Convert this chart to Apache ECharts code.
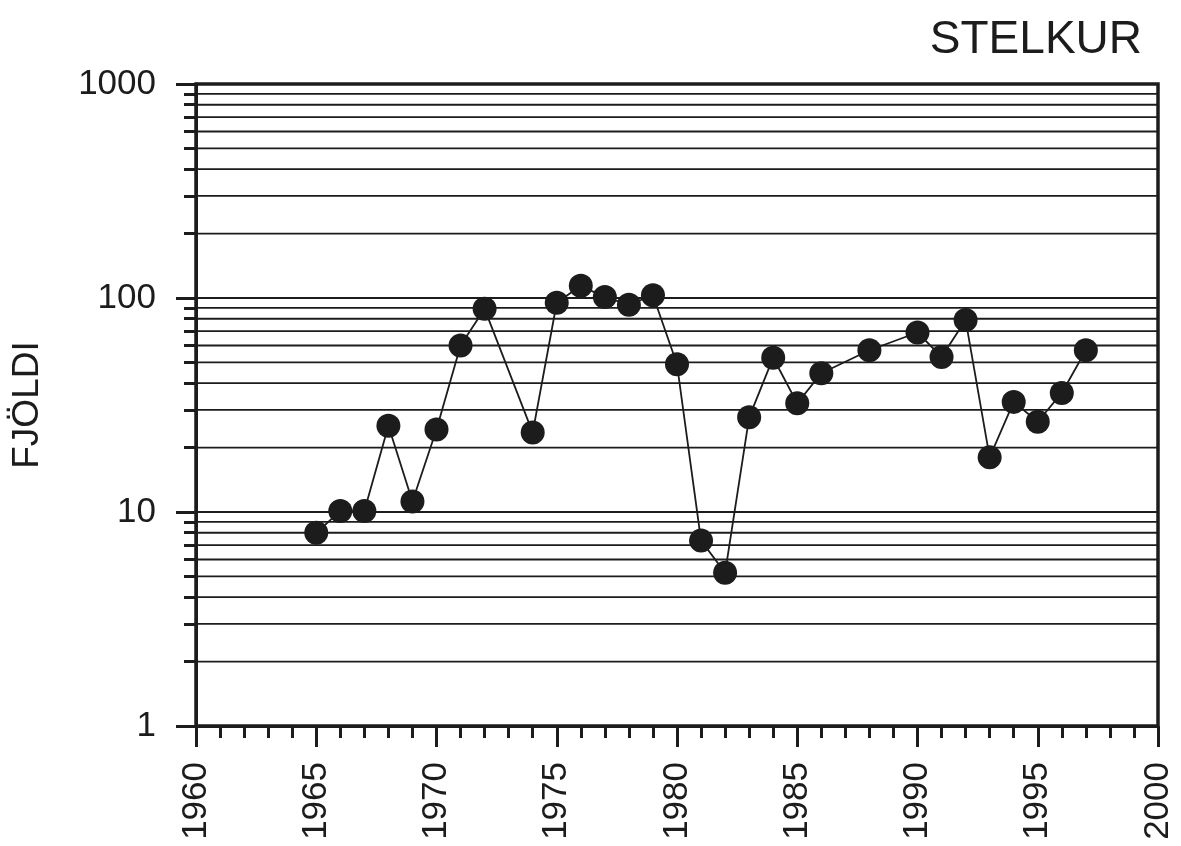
<!DOCTYPE html>
<html>
<head>
<meta charset="utf-8">
<script src="https://cdn.jsdelivr.net/npm/echarts@6/dist/echarts.min.js"></script>
<style>
  html, body { margin: 0; padding: 0; background: #fff; }
  #chart { width: 1181px; height: 846px; }
</style>
</head>
<body>
<div id="chart"></div>
<script>
// counts per year (years with no count are left out)
var years = [1965, 1966, 1967, 1968, 1969, 1970, 1971, 1972, 1974, 1975, 1976, 1977, 1978, 1979, 1980,
  1981, 1982, 1983, 1984, 1985, 1986, 1988, 1990, 1991, 1992, 1993, 1994, 1995, 1996, 1997];
var counts = [8, 10.1, 10.1, 25.3, 11.2, 24.3, 60, 89, 23.5, 95, 114, 101, 93, 103, 49,
  7.35, 5.2, 27.7, 52.6, 32.2, 44.5, 57, 69, 53, 79, 18, 32.7, 26.4, 36, 57];
// minor log grid lines 2..9 in each decade
var minorValues = [2, 3, 4, 5, 6, 7, 8, 9, 20, 30, 40, 50, 60, 70, 80, 90, 200, 300, 400, 500, 600, 700, 800, 900];

var ink = "#1c1c1c";
var font = "Liberation Sans, Arial, sans-serif";

var chart = echarts.init(document.getElementById("chart"));

var points = [];
for (var i = 0; i < years.length; i++) {
  points.push([years[i], counts[i]]);
}

// minor grid lines as flat two-point series
var series = minorValues.map(function (v) {
  return {
    type: "line",
    data: [[1960, v], [2000, v]],
    silent: true,
    symbol: "none",
    z: 1,
    lineStyle: { color: ink, width: 1.8 }
  };
});

series.push({
  type: "line",
  data: points,
  symbol: "circle",
  symbolSize: 24,
  z: 3,
  itemStyle: { color: ink },
  lineStyle: { color: ink, width: 1.8 }
});

chart.setOption({
  backgroundColor: "#fff",
  animation: false,
  title: {
    text: "STELKUR",
    right: 34,
    top: 12,
    textStyle: { fontFamily: font, fontSize: 46, fontWeight: "normal", color: ink }
  },
  grid: {
    left: 196,
    right: 23,
    top: 84,
    bottom: 120,
    show: true,
    borderColor: ink,
    borderWidth: 3.5
  },
  xAxis: {
    type: "value",
    min: 1960,
    max: 2000,
    interval: 5,
    axisLine: { lineStyle: { color: ink, width: 3 } },
    axisTick: { show: true, length: 21, lineStyle: { color: ink, width: 3 } },
    minorTick: { show: true, splitNumber: 5, length: 12, lineStyle: { color: ink, width: 3 } },
    splitLine: { show: false },
    axisLabel: {
      rotate: 90,
      margin: 36,
      fontFamily: font,
      fontSize: 35,
      color: ink,
      formatter: function (v) { return String(v); }
    }
  },
  yAxis: [{
    type: "log",
    logBase: 10,
    min: 1,
    max: 1000,
    name: "FJÖLDI",
    nameLocation: "middle",
    nameGap: 150,
    nameTextStyle: { fontFamily: font, fontSize: 37, color: ink },
    axisLine: { show: true, lineStyle: { color: ink, width: 3 } },
    axisTick: { show: true, length: 20, lineStyle: { color: ink, width: 3 } },
    splitLine: { show: true, lineStyle: { color: ink, width: 1.8 } },
    axisLabel: {
      margin: 40,
      fontFamily: font,
      fontSize: 35,
      color: ink,
      formatter: function (v) { return String(v); }
    }
  }, {
    // second log axis only for the short minor ticks
    type: "log",
    logBase: 10,
    min: 1,
    max: 1000,
    position: "left",
    axisLine: { show: false },
    axisLabel: { show: false },
    splitLine: { show: false },
    axisTick: {
      show: true,
      customValues: minorValues,
      length: 12,
      lineStyle: { color: ink, width: 3 }
    }
  }],
  series: series
});
</script>
</body>
</html>
